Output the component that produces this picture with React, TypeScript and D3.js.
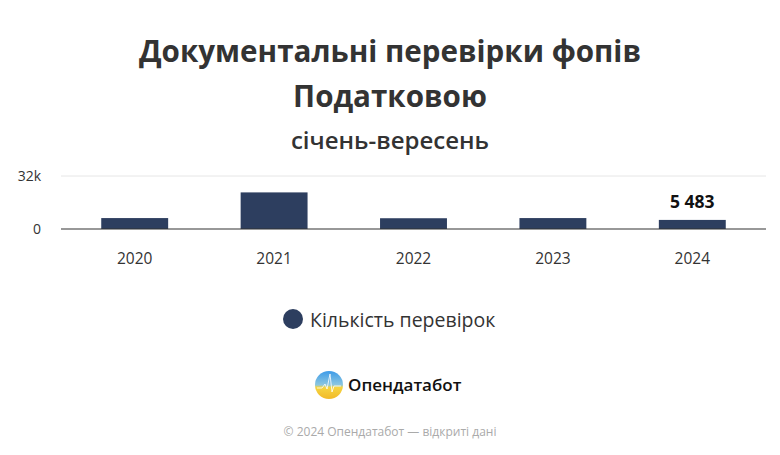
import React, { useEffect, useRef } from 'react';
import * as d3 from 'd3';

const years = ['2020', '2021', '2022', '2023', '2024'];
const checks = [6600, 22100, 6500, 6600, 5483];
const yTicks = [0, 32000];
const seriesName = 'Кількість перевірок';

const App: React.FC = () => {
  const svgRef = useRef<SVGSVGElement>(null);
  const width = 780;
  const height = 455;

  useEffect(() => {
    document.body.style.margin = '0';
    if (!svgRef.current) return;
    const svg = d3.select(svgRef.current);
    svg.selectAll('*').remove();

    const font = "'Open Sans', 'Noto Sans', sans-serif";
    const barColor = '#2d3e5f';

    // Titles
    svg.append('text')
      .attr('x', width / 2).attr('y', 62)
      .attr('text-anchor', 'middle')
      .attr('font-family', font).attr('font-weight', 700)
      .attr('font-size', 29.6).attr('fill', '#333')
      .text('Документальні перевірки фопів');
    svg.append('text')
      .attr('x', width / 2).attr('y', 107)
      .attr('text-anchor', 'middle')
      .attr('font-family', font).attr('font-weight', 700)
      .attr('font-size', 29.6).attr('fill', '#333')
      .text('Податковою');
    svg.append('text')
      .attr('x', width / 2).attr('y', 149)
      .attr('text-anchor', 'middle')
      .attr('font-family', font).attr('font-weight', 600)
      .attr('font-size', 24).attr('fill', '#333')
      .text('січень-вересень');

    // Scales
    const x = d3.scaleBand<string>()
      .domain(years)
      .range([65, 762])
      .paddingInner(0.52)
      .paddingOuter(0.26);

    const y = d3.scaleLinear()
      .domain([0, 32000])
      .range([229, 176]);

    const g = svg.append('g');

    // Grid line
    g.selectAll('line.grid')
      .data(yTicks.filter(t => t > 0))
      .join('line')
      .attr('x1', 61).attr('x2', 766)
      .attr('y1', d => y(d)).attr('y2', d => y(d))
      .attr('stroke', '#e6e6e6').attr('stroke-width', 1);

    // Y labels
    g.selectAll('text.ytick')
      .data(yTicks)
      .join('text')
      .attr('x', 41)
      .attr('y', d => y(d) + 5)
      .attr('text-anchor', 'end')
      .attr('font-family', font).attr('font-size', 14)
      .attr('fill', '#333')
      .text(d => (d === 0 ? '0' : `${d / 1000}k`));

    // Bars
    g.selectAll('rect.bar')
      .data(checks)
      .join('rect')
      .attr('x', (_, i) => x(years[i])!)
      .attr('y', d => y(d))
      .attr('width', x.bandwidth())
      .attr('height', d => y(0) - y(d))
      .attr('fill', barColor);

    // Axis line
    g.append('line')
      .attr('x1', 61).attr('x2', 766)
      .attr('y1', y(0)).attr('y2', y(0))
      .attr('stroke', '#333').attr('stroke-width', 1.2);

    // X labels
    g.selectAll('text.xtick')
      .data(years)
      .join('text')
      .attr('x', d => x(d)! + x.bandwidth() / 2)
      .attr('y', 264)
      .attr('text-anchor', 'middle')
      .attr('font-family', font).attr('font-size', 15.5)
      .attr('fill', '#333')
      .text(d => d);

    // Data label on last bar
    const last = checks.length - 1;
    g.append('text')
      .attr('x', x(years[last])! + x.bandwidth() / 2)
      .attr('y', y(checks[last]) - 12)
      .attr('text-anchor', 'middle')
      .attr('font-family', font).attr('font-weight', 700)
      .attr('font-size', 17.5).attr('fill', '#111')
      .text(d3.format(',')(checks[last]).replace(',', ' '));

    // Legend
    svg.append('circle')
      .attr('cx', 293).attr('cy', 319).attr('r', 10)
      .attr('fill', barColor);
    svg.append('text')
      .attr('x', 310).attr('y', 327)
      .attr('font-family', font).attr('font-size', 19.5)
      .attr('fill', '#333')
      .text(seriesName);

    // Logo
    const defs = svg.append('defs');
    const grad = defs.append('linearGradient')
      .attr('id', 'logoGrad').attr('x1', 0).attr('y1', 0).attr('x2', 0).attr('y2', 1);
    grad.append('stop').attr('offset', '0%').attr('stop-color', '#3d9be9');
    grad.append('stop').attr('offset', '50%').attr('stop-color', '#8cc7e0');
    grad.append('stop').attr('offset', '58%').attr('stop-color', '#f5d542');
    grad.append('stop').attr('offset', '100%').attr('stop-color', '#f2b928');
    svg.append('circle')
      .attr('cx', 329).attr('cy', 385).attr('r', 14)
      .attr('fill', 'url(#logoGrad)');
    svg.append('path')
      .attr('d', 'M317,388 L322,388 L325,384 L327,389 L330,374 L332,392 L334,386 L341,386')
      .attr('fill', 'none').attr('stroke', '#fff').attr('stroke-width', 1)
      .attr('opacity', 0.8);
    svg.append('text')
      .attr('x', 348).attr('y', 391)
      .attr('font-family', font).attr('font-weight', 600)
      .attr('font-size', 17).attr('fill', '#111')
      .text('Опендатабот');

    // Footer
    svg.append('text')
      .attr('x', width / 2).attr('y', 436)
      .attr('text-anchor', 'middle')
      .attr('font-family', font).attr('font-size', 12)
      .attr('fill', '#aaa')
      .text('© 2024 Опендатабот — відкриті дані');
  }, []);

  return (
    <svg ref={svgRef} width={width} height={height} style={{ display: 'block', background: '#fff' }} />
  );
};

export default App;
